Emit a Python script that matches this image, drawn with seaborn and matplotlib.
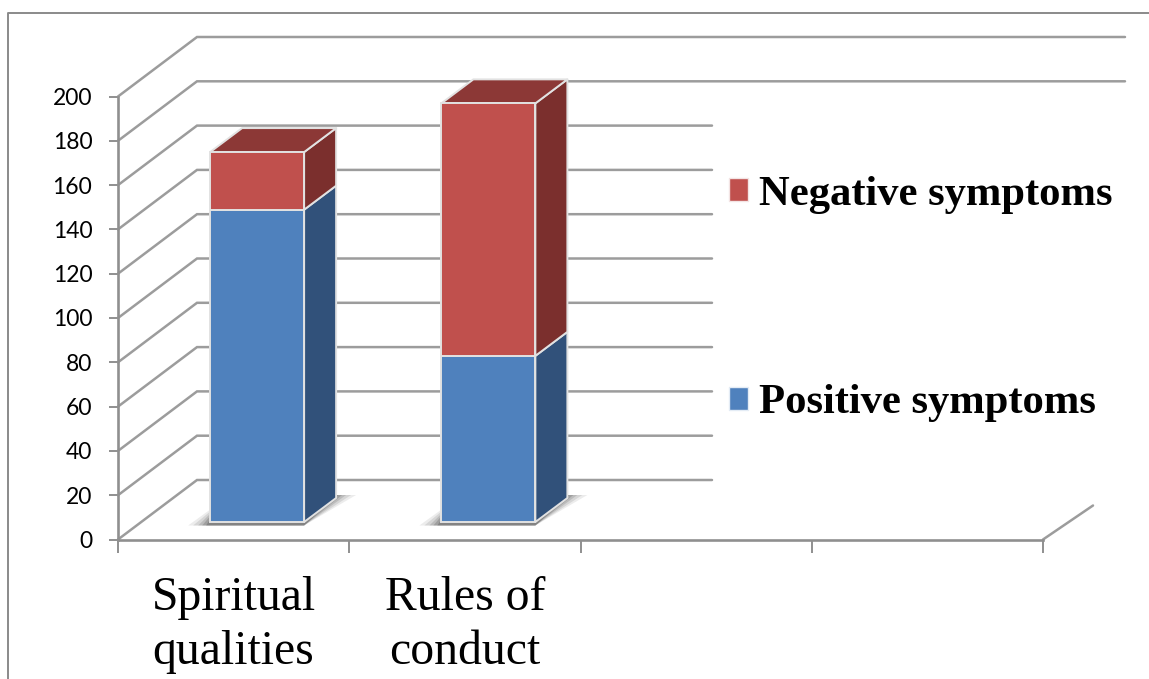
import matplotlib
matplotlib.use("Agg")
import matplotlib.pyplot as plt
from matplotlib.lines import Line2D
from matplotlib.patches import Patch, Polygon
from matplotlib.transforms import Affine2D
import seaborn as sns

# Chart values
categories = ["Spiritual\nqualities", "Rules of\nconduct"]
axis_slots = ["Spiritual\nqualities", "Rules of\nconduct", " ", "  "]
positive = [141, 75]
negative = [26, 114]
y_ticks = list(range(0, 201, 20))
series_names = ["Negative symptoms", "Positive symptoms"]

W, H = 1149, 679
AX_L, AX_R, AX_B, AX_T = 118, 1043, 539.5, 96.5
BLUE, BLUE_SIDE = "#4f81bd", "#31517a"
RED, RED_SIDE, RED_TOP = "#c0504d", "#7b2f2d", "#8c3836"
EDGE, GRID, AXIS = "#e2e2e2", "#9c9c9c", "#8f8f8f"

sns.set_theme(style="white")
plt.rcParams["font.family"] = ["Liberation Serif", "DejaVu Serif"]

fig = plt.figure(figsize=(W / 100, H / 100), dpi=100, facecolor="white")
ax = fig.add_axes([AX_L / W, 1 - AX_B / H, (AX_R - AX_L) / W, (AX_B - AX_T) / H])
ax.patch.set_visible(False)

# Conversions from pixel lengths to data units
px_x = 4 / (AX_R - AX_L)
px_y = 200 / (AX_B - AX_T)


def slot_x(px):
    return (px - AX_L) * px_x - 0.5


sns.barplot(x=categories, y=positive, order=axis_slots, color=BLUE, width=0.4065,
            saturation=1, edgecolor=EDGE, linewidth=1.4, zorder=4, ax=ax)
n_lower = len(ax.patches)
sns.barplot(x=categories, y=negative, bottom=positive, order=axis_slots, color=RED, width=0.4065,
            saturation=1, edgecolor=EDGE, linewidth=1.4, zorder=4, ax=ax)
ax.set_xlim(-0.5, 3.5)
ax.set_ylim(0, 200)

# Wall: every gridline runs up the side wall, then along the back
wall_dx, wall_dy = 79 * px_x, 59.5 * px_y
for value in y_ticks:
    end = 1125 if value >= 180 else 712
    ax.plot([-0.5, -0.5 + wall_dx, slot_x(end)], [value, value + wall_dy, value + wall_dy],
            color=GRID, lw=1.8, clip_on=False, zorder=1, solid_joinstyle="miter")
ax.plot([3.5, slot_x(1093)], [0, 34 * px_y], color=GRID, lw=1.8, clip_on=False, zorder=1)

# Bars stand partway into the floor
shift_x, shift_y = 23.5 * px_x, 17.5 * px_y
depth_x, depth_y = 32 * px_x, 24 * px_y
shift = Affine2D().translate(shift_x, shift_y)

for i, bar in enumerate(ax.patches):
    lower = i < n_lower
    x0, y0 = bar.get_x() + shift_x, bar.get_y() + shift_y
    x1, y1 = x0 + bar.get_width(), y0 + bar.get_height()
    bar.set_transform(shift + ax.transData)
    bar.set_clip_on(False)
    ax.add_patch(Polygon([(x1, y0), (x1 + depth_x, y0 + depth_y), (x1 + depth_x, y1 + depth_y), (x1, y1)],
                         facecolor=BLUE_SIDE if lower else RED_SIDE, edgecolor=EDGE, lw=1.4,
                         clip_on=False, zorder=3.5, joinstyle="round"))
    if lower:
        # Soft floor shadow, built from layered translucent shapes
        for grow, alpha in zip([20, 15, 10, 6, 2], [0.10, 0.14, 0.18, 0.24, 0.32]):
            ax.add_patch(Polygon(
                [(x0 - (2 + grow) * px_x, y0 - 3.5 * px_y), (x1, y0 - 3.5 * px_y),
                 (x1 + depth_x + grow * px_x, y0 + depth_y + 3 * px_y),
                 (x1 + depth_x - 6 * px_x, y0 + depth_y + 3 * px_y),
                 (x0 + 5 * px_x, y0 + (grow * 0.3 + 10) * px_y)],
                facecolor="#4a4a4a", edgecolor="none", alpha=alpha, clip_on=False, zorder=2))
    else:
        ax.add_patch(Polygon([(x0, y1), (x0 + depth_x, y1 + depth_y), (x1 + depth_x, y1 + depth_y), (x1, y1)],
                             facecolor=RED_TOP, edgecolor=EDGE, lw=1.4, clip_on=False, zorder=3.5,
                             joinstyle="round"))

# Axis lines and ticks
for side in ("top", "right"):
    ax.spines[side].set_visible(False)
for side in ("left", "bottom"):
    ax.spines[side].set_color(AXIS)
    ax.spines[side].set_linewidth(1.9)
    ax.spines[side].set_zorder(1.5)

ax.set_yticks(y_ticks)
ax.tick_params(axis="y", which="major", left=True, length=6.5, width=1.4, color=AXIS, pad=12, labelcolor="black")
for label in ax.get_yticklabels():
    label.set_fontfamily("Lato")
    label.set_fontsize(16.5)

ax.set_xticks([0, 1, 2, 3])
ax.set_xticklabels(axis_slots, fontsize=34.3, color="black", linespacing=1.3)
ax.set_xticks([-0.5, 0.5, 1.5, 2.5, 3.5], minor=True)
ax.tick_params(axis="x", which="major", bottom=False, length=0, pad=26)
ax.tick_params(axis="x", which="minor", bottom=True, length=9.5, width=1.4, color=AXIS)

# Legend with generously spaced entries
handles = [Patch(facecolor=RED, edgecolor="#f3e4e4", lw=1), Patch(facecolor=BLUE, edgecolor="#e4ecf5", lw=1)]
fig.legend(handles, series_names, loc="upper left", bbox_to_anchor=(716 / W, 1 - 163 / H),
           bbox_transform=fig.transFigure, frameon=False, borderpad=0.3, borderaxespad=0,
           prop={"family": "Liberation Serif", "weight": "bold", "size": 30.7}, labelcolor="black",
           handlelength=0.45, handleheight=0.45, handletextpad=0.26, labelspacing=4.0)

# Chart frame, running off the right and bottom edges
fig.add_artist(Line2D([8 / W, 8 / W, 1], [0, 1 - 13 / H, 1 - 13 / H], color="#8a8a8a", lw=1.4,
                      transform=fig.transFigure))

fig.savefig("out.png", dpi=100)
